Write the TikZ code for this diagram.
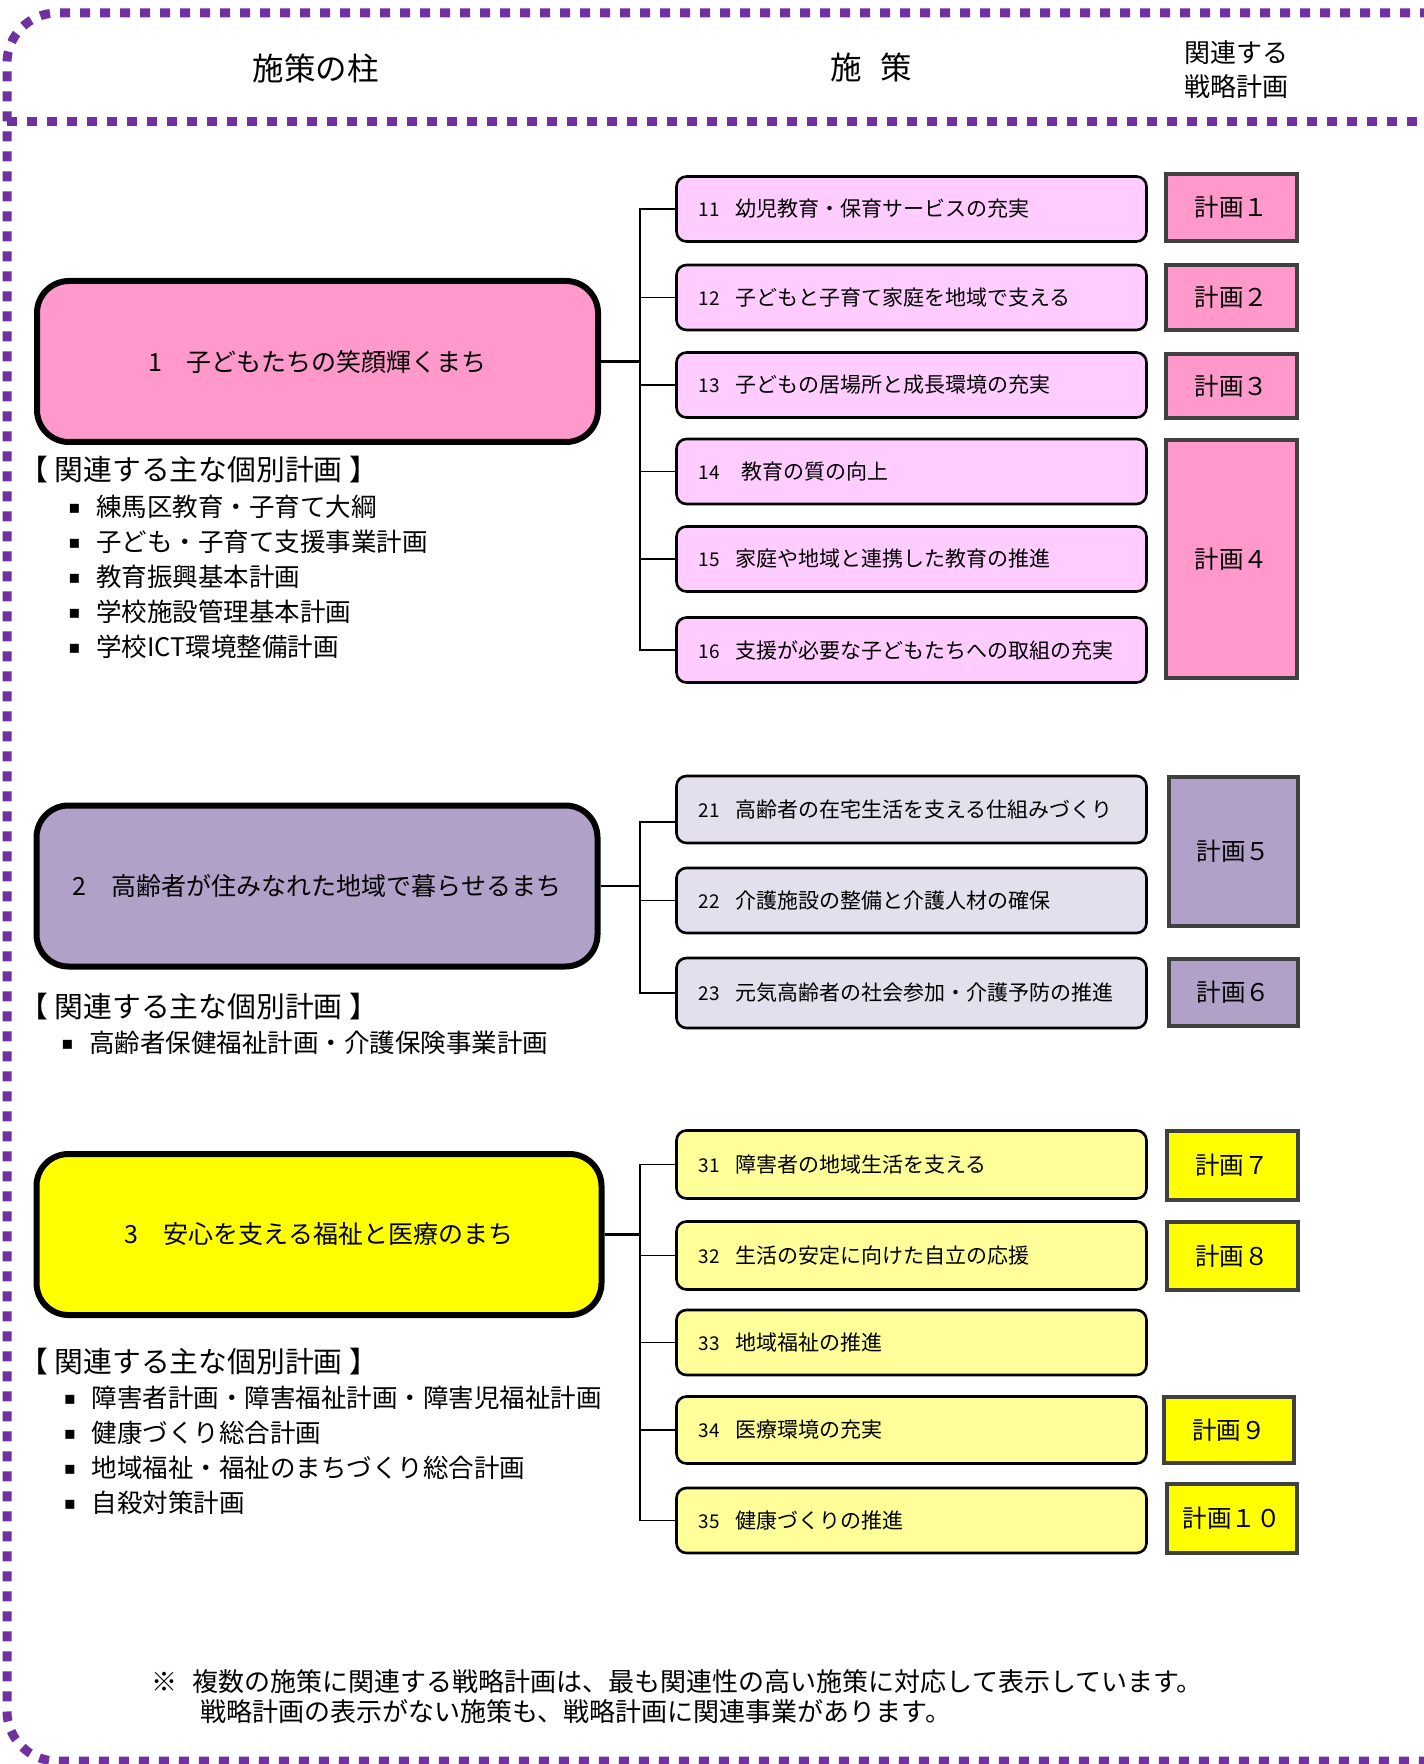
\documentclass[tikz,border=0pt]{standalone}
\usepackage{fontspec}
\setmainfont{Noto Sans CJK JP}
\newfontfamily\dejavu{DejaVu Sans}
\definecolor{bpurple}{HTML}{7030A0}
\definecolor{pinkD}{HTML}{FF99CC}
\definecolor{pinkL}{HTML}{FFCCFF}
\definecolor{purD}{HTML}{B1A0C7}
\definecolor{purL}{HTML}{E4DFEC}
\definecolor{yelD}{HTML}{FFFF00}
\definecolor{yelL}{HTML}{FFFF99}
\definecolor{planborder}{HTML}{404040}
\newcommand\pnum[1]{{\fontsize{9.5}{10}\selectfont #1}\hspace{8pt}}
\newcommand\bul{\makebox[14pt][l]{\raisebox{1.5pt}{\dejavu\fontsize{9}{9}\selectfont ▪}}}
\begin{document}
\begin{tikzpicture}[x=0.5pt,y=-0.5pt,
  border/.style={draw=bpurple, line width=4.5pt, dash pattern=on 5pt off 5pt},
  pillar/.style={draw=black, line width=3pt, rounded corners=16pt, minimum width=280.5pt, minimum height=80.5pt, inner sep=0pt, font=\fontsize{12.5}{15}\selectfont},
  policy/.style={draw=black, line width=1.3pt, rounded corners=5pt, minimum height=32.5pt, text width=213pt, align=left, inner xsep=11pt, inner ysep=0pt, font=\fontsize{10.5}{12}\selectfont},
  plan/.style={draw=planborder, line width=2pt, minimum width=65.5pt, inner sep=0pt, font=\fontsize{12.25}{14}\selectfont},
  tree/.style={line width=0.9pt},
  trunk/.style={line width=1.4pt},
  lbl/.style={anchor=base west, inner sep=0pt},
  head/.style={font=\fontsize{14.4}{16}\selectfont},
  item/.style={font=\fontsize{12.75}{15}\selectfont},
  note/.style={font=\fontsize{13}{15}\selectfont}]
\useasboundingbox (0,0) rectangle (1423,1764);

% frame
\draw[border, rounded corners=25pt] (1450,13) -- (7,13) -- (7,1761) -- (1450,1761);
\draw[border] (7,122) -- (1450,122);

% header
\node[font=\fontsize{15.75}{18}\selectfont] (hA) at (315.5,68) {施策の柱};
\node[font=\fontsize{15.75}{18}\selectfont] (hB) at (871,67) {施\hspace{9.5pt}策};
\node[font=\fontsize{13}{17}\selectfont, align=left] (hC) at (1236,70) {関連する\\戦略計画};

% ===== section 1 =====
\node[pillar, fill=pinkD] (p1) at (317.5,361.5) {1　子どもたちの笑顔輝くまち};
\node[policy, fill=pinkL] (a11) at (911.5,209) {\pnum{11}幼児教育・保育サービスの充実};
\node[policy, fill=pinkL] (a12) at (911.5,297.5) {\pnum{12}子どもと子育て家庭を地域で支える};
\node[policy, fill=pinkL] (a13) at (911.5,385) {\pnum{13}子どもの居場所と成長環境の充実};
\node[policy, fill=pinkL] (a14) at (911.5,471.5) {\pnum{14}\hspace{3pt}教育の質の向上};
\node[policy, fill=pinkL] (a15) at (911.5,559) {\pnum{15}家庭や地域と連携した教育の推進};
\node[policy, fill=pinkL] (a16) at (911.5,650) {\pnum{16}支援が必要な子どもたちへの取組の充実};
\node[plan, fill=pinkD, minimum height=33.5pt] (q1) at (1231.5,207.5) {計画１};
\node[plan, fill=pinkD, minimum height=32.5pt] (q2) at (1231.5,297.5) {計画２};
\node[plan, fill=pinkD, minimum height=32pt] (q3) at (1231.5,386) {計画３};
\node[plan, fill=pinkD, minimum height=119pt] (q4) at (1231.5,559) {計画４};
\coordinate (j1) at (640,361.5);
\draw[trunk] (p1.east) -- (j1);
\draw[tree] (a11.west) -- (a11.west -| j1) -- (a16.west -| j1) -- (a16.west);
\foreach \n in {12,13,14,15} \draw[tree] (a\n.west) -- (a\n.west -| j1);

\node[lbl, head] (r1) at (19,481) {【 関連する主な個別計画 】};
\node[lbl, item] (r11) at (68,516.7) {\bul 練馬区教育・子育て大綱};
\node[lbl, item] (r12) at (68,551.7) {\bul 子ども・子育て支援事業計画};
\node[lbl, item] (r13) at (68,586.7) {\bul 教育振興基本計画};
\node[lbl, item] (r14) at (68,621.7) {\bul 学校施設管理基本計画};
\node[lbl, item] (r15) at (68,656.7) {\bul 学校ICT環境整備計画};

% ===== section 2 =====
\node[pillar, fill=purD] (p2) at (317,886) {2　高齢者が住みなれた地域で暮らせるまち};
\node[policy, fill=purL, minimum height=33.5pt] (a21) at (911.5,809.5) {\pnum{21}高齢者の在宅生活を支える仕組みづくり};
\node[policy, fill=purL] (a22) at (911.5,900.5) {\pnum{22}介護施設の整備と介護人材の確保};
\node[policy, fill=purL, minimum height=35pt] (a23) at (911.5,993) {\pnum{23}元気高齢者の社会参加・介護予防の推進};
\node[plan, fill=purD, minimum width=64.5pt, minimum height=74.5pt] (q5) at (1233.5,851.5) {計画５};
\node[plan, fill=purD, minimum width=64.5pt, minimum height=33.5pt] (q6) at (1233.5,992.5) {計画６};
\coordinate (j2) at (640,886);
\draw[trunk] (p2.east) -- (j2);
\draw[tree] ([yshift=-6.25pt]a21.west) -- ([yshift=-6.25pt]a21.west -| j2) -- (a23.west -| j2) -- (a23.west);
\draw[tree] (a22.west) -- (a22.west -| j2);

\node[lbl, head] (r2) at (19,1017.6) {【 関連する主な個別計画 】};
\node[lbl, item] (r21) at (61,1052.7) {\bul 高齢者保健福祉計画・介護保険事業計画};

% ===== section 3 =====
\node[pillar, fill=yelD, minimum width=282.5pt] (p3) at (319,1234.5) {3　安心を支える福祉と医療のまち};
\node[policy, fill=yelL, minimum height=34pt] (a31) at (911.5,1164.5) {\pnum{31}障害者の地域生活を支える};
\node[policy, fill=yelL, minimum height=34pt] (a32) at (911.5,1255.5) {\pnum{32}生活の安定に向けた自立の応援};
\node[policy, fill=yelL] (a33) at (911.5,1342.5) {\pnum{33}地域福祉の推進};
\node[policy, fill=yelL, minimum height=33.5pt] (a34) at (911.5,1430) {\pnum{34}医療環境の充実};
\node[policy, fill=yelL] (a35) at (911.5,1520.5) {\pnum{35}健康づくりの推進};
\node[plan, fill=yelD, minimum height=34.5pt] (q7) at (1232,1165.5) {計画７};
\node[plan, fill=yelD, minimum height=34pt] (q8) at (1232,1256) {計画８};
\node[plan, fill=yelD, minimum width=65pt, minimum height=33pt] (q9) at (1229,1430) {計画９};
\node[plan, fill=yelD, minimum width=65pt, minimum height=34.5pt] (q10) at (1231.5,1518.5) {計画１０};
\coordinate (j3) at (640,1234.5);
\draw[trunk] (p3.east) -- (j3);
\draw[tree] (a31.west) -- (a31.west -| j3) -- (a35.west -| j3) -- (a35.west);
\foreach \n in {32,33,34} \draw[tree] (a\n.west) -- (a\n.west -| j3);

\node[lbl, head] (r3) at (19,1372.6) {【 関連する主な個別計画 】};
\node[lbl, item] (r31) at (63.5,1407.7) {\bul 障害者計画・障害福祉計画・障害児福祉計画};
\node[lbl, item] (r32) at (63.5,1442.7) {\bul 健康づくり総合計画};
\node[lbl, item] (r33) at (63.5,1477.7) {\bul 地域福祉・福祉のまちづくり総合計画};
\node[lbl, item] (r34) at (63.5,1512.7) {\bul 自殺対策計画};

% footnote
\node[lbl, note] (n1) at (151,1691.6) {※\hspace{7.75pt}複数の施策に関連する戦略計画は、最も関連性の高い施策に対応して表示しています。};
\node[lbl, note] (n2) at (200,1721.6) {戦略計画の表示がない施策も、戦略計画に関連事業があります。};
\end{tikzpicture}
\end{document}
